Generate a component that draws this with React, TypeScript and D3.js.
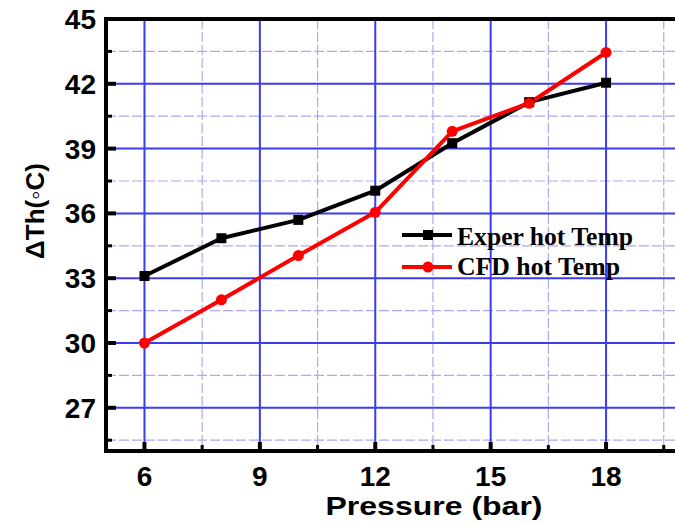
import * as d3 from 'd3';

const pressures = [6, 8, 10, 12, 14, 16, 18];
const experHot = [33.1, 34.85, 35.7, 37.05, 39.25, 41.15, 42.05];
const cfdHot = [30.0, 32.0, 34.05, 36.05, 39.8, 41.1, 43.45];
const xTicks = [6, 9, 12, 15, 18];
const xMinor = [7.5, 10.5, 13.5, 16.5, 19.5];
const yTicks = [27, 30, 33, 36, 39, 42, 45];
const yMinor = [25.5, 28.5, 31.5, 34.5, 37.5, 40.5, 43.5];
const seriesNames = ['Exper hot Temp', 'CFD hot Temp'];

const width = 675;
const height = 525;
const margin = { top: 19, right: -8, bottom: 74, left: 106 };

const sans = '"Liberation Sans", Arial, sans-serif';
const serif = '"Liberation Serif", "Times New Roman", serif';

export default function App() {
  const x = d3.scaleLinear().domain([5, 20]).range([margin.left, width - margin.right]);
  const y = d3.scaleLinear().domain([25, 45]).range([height - margin.bottom, margin.top]);

  const line = d3.line<number>()
    .x((_, i) => x(pressures[i]))
    .y(d => y(d));

  const x0 = x(5);
  const x1 = x(20);
  const y0 = y(25);
  const y1 = y(45);

  const majorGrid = '#3b3bf0';
  const minorGrid = '#aaaaf3';

  return (
    <svg
      width={width}
      height={height}
      style={{ position: 'absolute', left: 0, top: 0, background: '#fff' }}
    >
      {/* minor grid */}
      {xMinor.map(v => (
        <line key={'xm' + v} x1={x(v)} x2={x(v)} y1={y1} y2={y0}
          stroke={minorGrid} strokeWidth={1.2} strokeDasharray="10,3" />
      ))}
      {yMinor.map(v => (
        <line key={'ym' + v} x1={x0} x2={x1} y1={y(v)} y2={y(v)}
          stroke={minorGrid} strokeWidth={1.2} strokeDasharray="10,3" />
      ))}
      {/* major grid */}
      {xTicks.map(v => (
        <line key={'xg' + v} x1={x(v)} x2={x(v)} y1={y1} y2={y0}
          stroke={majorGrid} strokeWidth={2} />
      ))}
      {yTicks.map(v => (
        <line key={'yg' + v} x1={x0} x2={x1} y1={y(v)} y2={y(v)}
          stroke={majorGrid} strokeWidth={2} />
      ))}

      {/* series */}
      <path d={line(experHot) || ''} fill="none" stroke="#000" strokeWidth={4} strokeLinejoin="round" />
      <path d={line(cfdHot) || ''} fill="none" stroke="#ff0000" strokeWidth={4} strokeLinejoin="round" />
      {experHot.map((v, i) => (
        <rect key={'e' + i} x={x(pressures[i]) - 5} y={y(v) - 5} width={10} height={10} fill="#000" />
      ))}
      {cfdHot.map((v, i) => (
        <circle key={'c' + i} cx={x(pressures[i])} cy={y(v)} r={5.5} fill="#ff0000" />
      ))}

      {/* axes frame */}
      <line x1={x0} x2={x1} y1={y1} y2={y1} stroke="#000" strokeWidth={4} />
      <line x1={x0} x2={x0} y1={y1 - 2} y2={y0 + 2} stroke="#000" strokeWidth={4} />
      <line x1={x0 - 2} x2={x1} y1={y0} y2={y0} stroke="#000" strokeWidth={4} />

      {/* ticks */}
      {xTicks.map(v => (
        <line key={'xt' + v} x1={x(v)} x2={x(v)} y1={y0} y2={y0 - 9} stroke="#000" strokeWidth={4} />
      ))}
      {xMinor.map(v => (
        <line key={'xmt' + v} x1={x(v)} x2={x(v)} y1={y0} y2={y0 - 6} stroke="#000" strokeWidth={3} />
      ))}
      {yTicks.map(v => (
        <line key={'yt' + v} x1={x0} x2={x0 + 10} y1={y(v)} y2={y(v)} stroke="#000" strokeWidth={4} />
      ))}
      {yMinor.map(v => (
        <line key={'ymt' + v} x1={x0} x2={x0 + 6} y1={y(v)} y2={y(v)} stroke="#000" strokeWidth={3} />
      ))}

      {/* tick labels */}
      {xTicks.map(v => (
        <text key={'xl' + v} x={x(v)} y={y0 + 35} textAnchor="middle"
          fontFamily={sans} fontWeight="bold" fontSize={28}>{v}</text>
      ))}
      {yTicks.map(v => (
        <text key={'yl' + v} x={x0 - 10} y={y(v) + 10} textAnchor="end"
          fontFamily={sans} fontWeight="bold" fontSize={28}>{v}</text>
      ))}

      {/* axis titles */}
      <text x={434} y={515} textAnchor="middle" fontFamily={sans} fontWeight="bold"
        fontSize={26} textLength={217} lengthAdjust="spacingAndGlyphs">Pressure (bar)</text>
      <text transform={`translate(44,211) rotate(-90)`} textAnchor="middle" fontFamily={sans}
        fontWeight="bold" fontSize={26}>ΔTh(◦C)</text>

      {/* legend */}
      <line x1={402} x2={452} y1={235} y2={235} stroke="#000" strokeWidth={4} />
      <rect x={423} y={230} width={10} height={10} fill="#000" />
      <text x={457} y={245} fontFamily={serif} fontWeight="bold" fontSize={25.5}
        textLength={176} lengthAdjust="spacingAndGlyphs">{seriesNames[0]}</text>
      <line x1={402} x2={452} y1={267} y2={267} stroke="#ff0000" strokeWidth={4} />
      <circle cx={428} cy={267} r={5.5} fill="#ff0000" />
      <text x={457} y={275} fontFamily={serif} fontWeight="bold" fontSize={25.5}
        textLength={163} lengthAdjust="spacingAndGlyphs">{seriesNames[1]}</text>
    </svg>
  );
}
